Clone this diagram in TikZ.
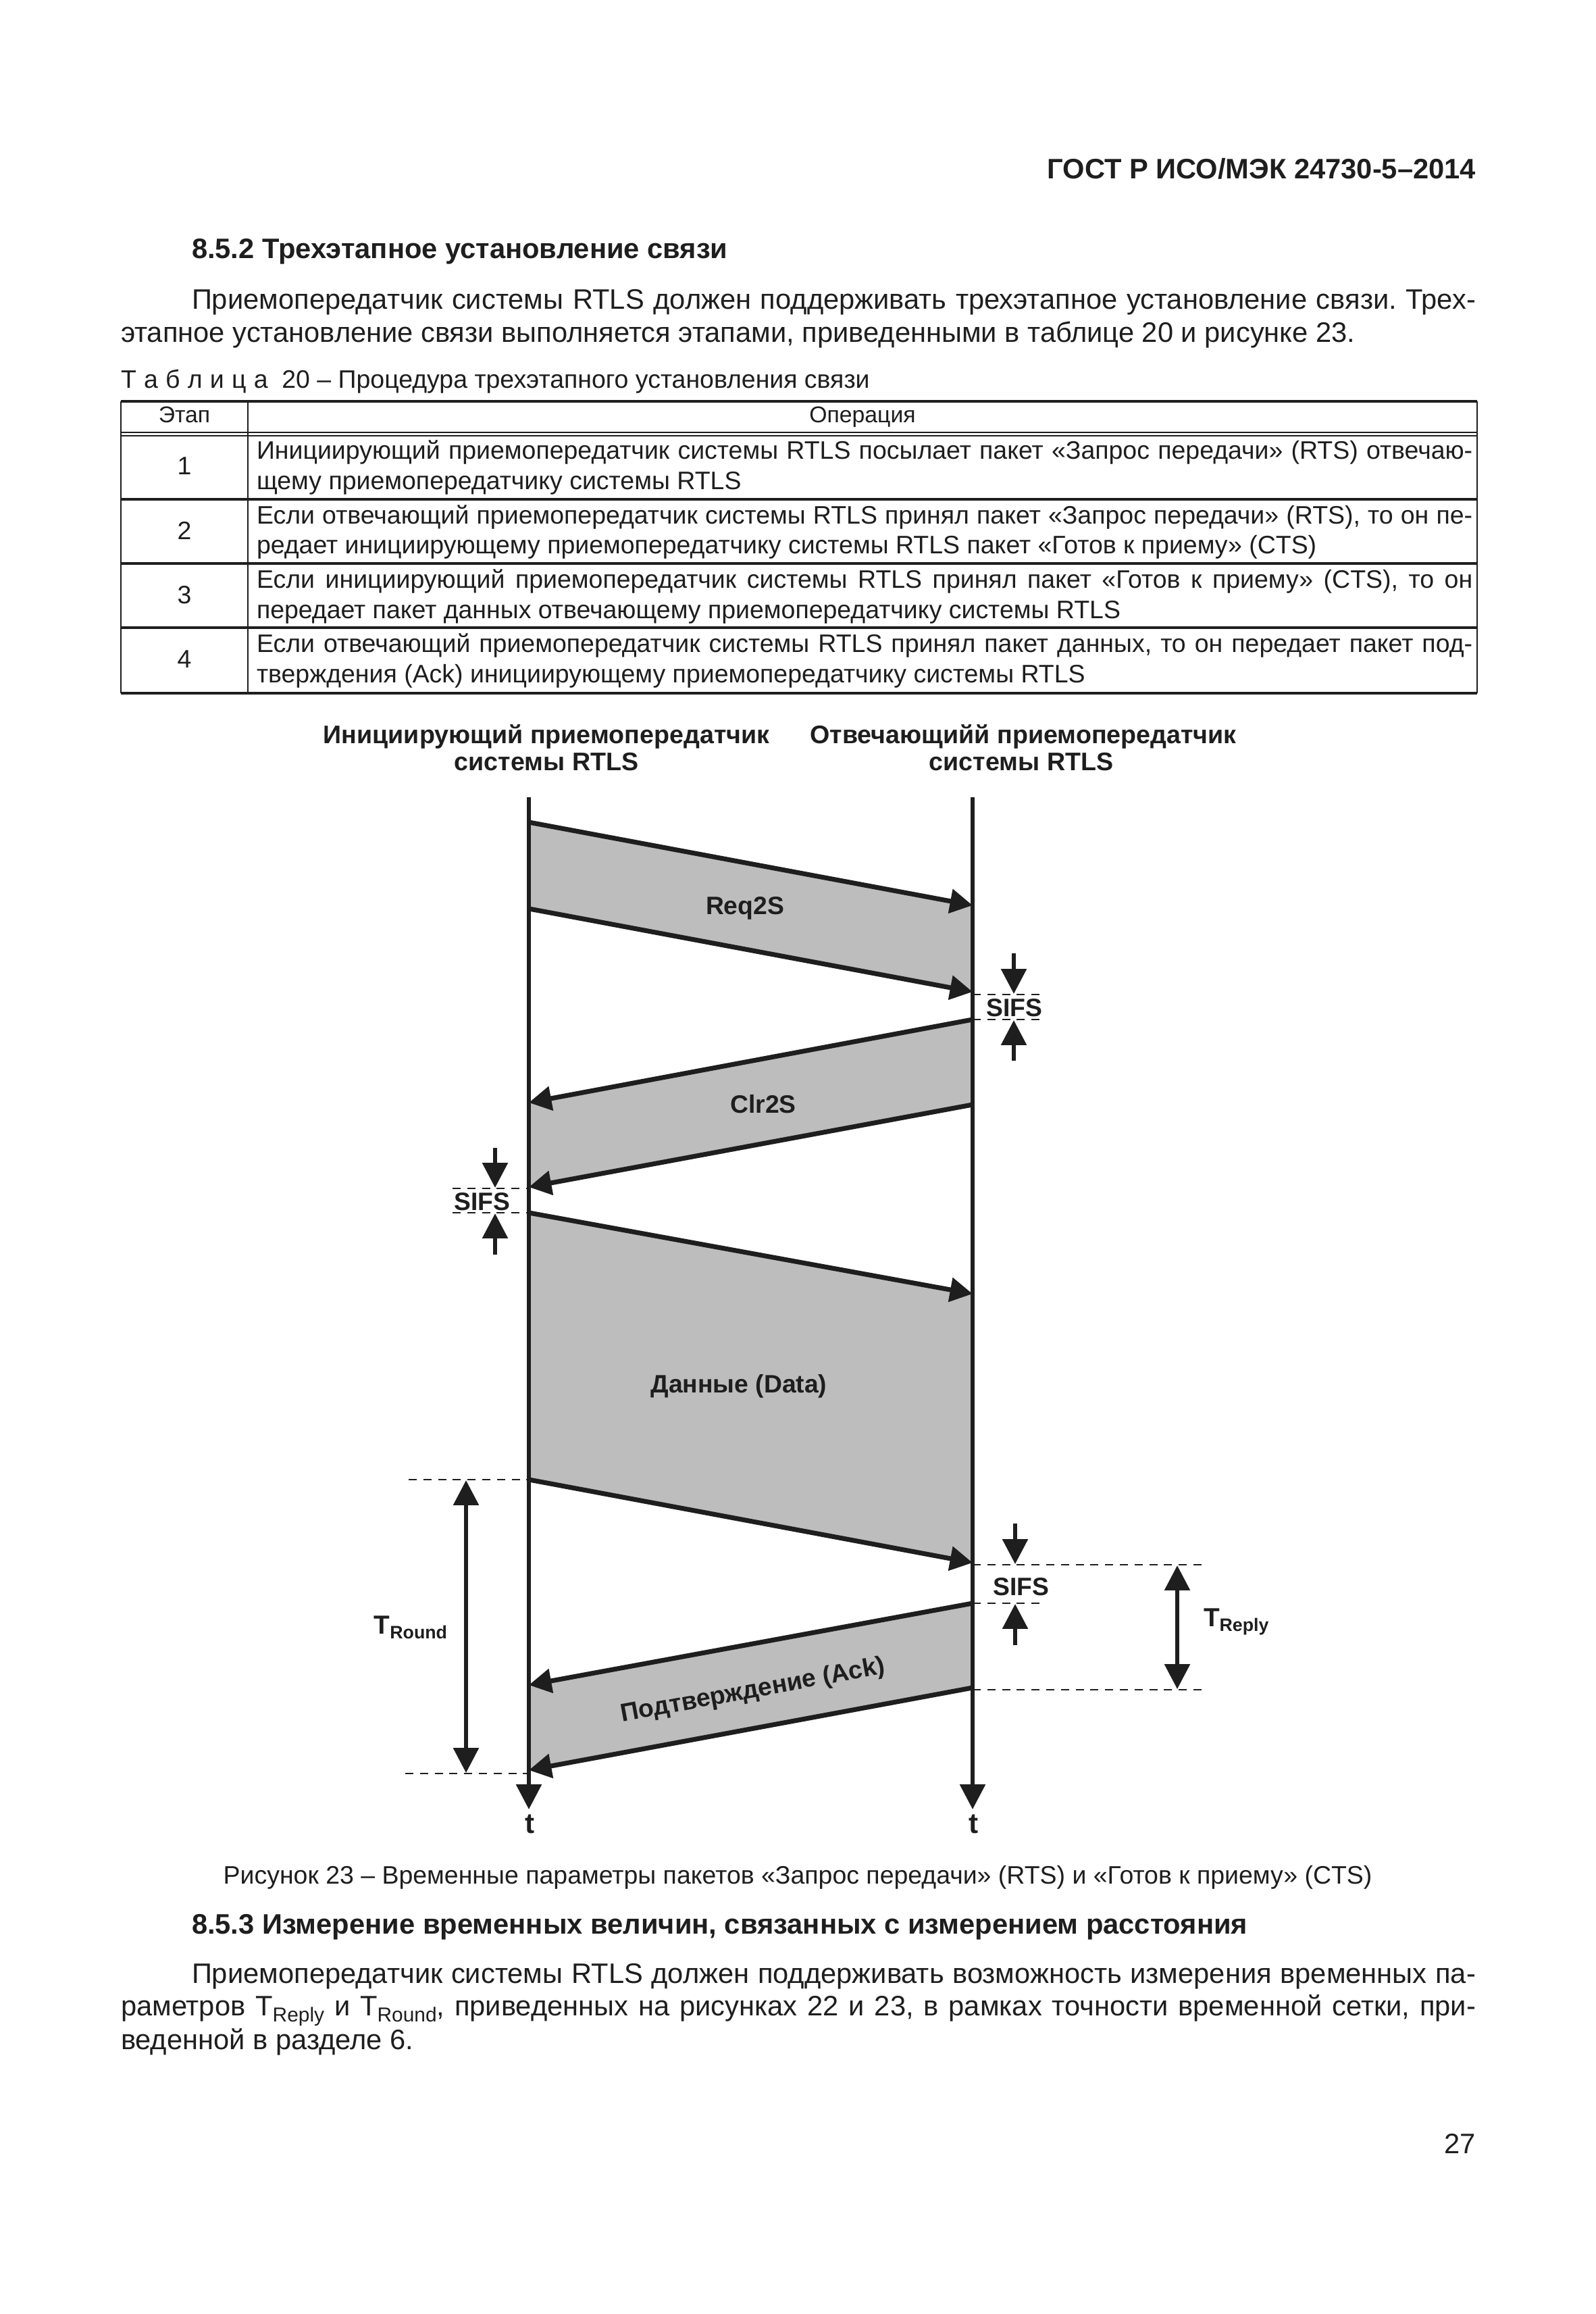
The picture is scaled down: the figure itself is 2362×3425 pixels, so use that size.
\documentclass[tikz,border=0pt]{standalone}
\usepackage{fontspec}
\setmainfont{Liberation Sans}
\usetikzlibrary{arrows.meta}
\newlength\pxu \setlength\pxu{0.01cm}
\newcommand\jl[2]{\makebox[#1\pxu][s]{#2}}
\newcommand\lsp{\hspace{0.3em}}
\newcommand\bsub[1]{\raisebox{-0.42ex}{\fontsize{8.5}{9}\selectfont #1}}
\newcommand\dsub[1]{\raisebox{-2.2pt}{\fontsize{7.6}{8}\selectfont\bfseries #1}}
\definecolor{ink}{HTML}{1E1E1E}
\definecolor{bandgray}{HTML}{BDBDBD}
\frenchspacing
\begin{document}
\begin{tikzpicture}[x=0.01cm,y=-0.01cm,
  every node/.style={inner sep=0pt, outer sep=0pt, text=ink},
  bodytxt/.style={anchor=base west, font=\fontsize{11.85}{14}\selectfont},
  bodybold/.style={anchor=base west, font=\fontsize{11.85}{14}\selectfont\bfseries},
  tabtxt/.style={anchor=base west, font=\fontsize{10.65}{12.5}\selectfont},
  tabmid/.style={anchor=base, font=\fontsize{10.65}{12.5}\selectfont},
  tabhead/.style={anchor=base, font=\fontsize{9.6}{11}\selectfont},
  figlab/.style={font=\fontsize{10.6}{12.5}\selectfont\bfseries},
  headlab/.style={anchor=base, font=\fontsize{10.7}{13}\selectfont\bfseries},
  hrule/.style={draw=ink, line width=1.1pt},
  vrule/.style={draw=ink, line width=0.7pt},
  thinrule/.style={draw=ink, line width=0.55pt},
  msgline/.style={draw=ink, line width=2pt, -{Triangle[length=9.5pt,width=10pt]}},
  lifeline/.style={draw=ink, line width=1.7pt, -{Triangle[length=10.5pt,width=10.5pt]}},
  sifsarrow/.style={draw=ink, line width=1.7pt, -{Triangle[length=10.5pt,width=10.5pt]}},
  spanarrow/.style={draw=ink, line width=1.7pt, {Triangle[length=10.5pt,width=10.5pt]}-{Triangle[length=10.5pt,width=10.5pt]}},
  guide/.style={draw=ink, line width=0.6pt, dash pattern=on 3.4pt off 2.8pt},
]
\useasboundingbox[fill=white] (0,0) rectangle (2362,3425);

% ---------- page text ----------
\node[bodybold, anchor=base east] (hdr) at (2185,265) {ГОСТ Р ИСО/МЭК 24730-5–2014};
\node[bodybold] (h852) at (284,383) {8.5.2 Трехэтапное установление связи};
\node[bodytxt] (p1a) at (284,458) {\jl{1901}{Приемопередатчик системы RTLS должен поддерживать трехэтапное установление связи. Трех-}};
\node[bodytxt] (p1b) at (179,507) {этапное установление связи выполняется этапами, приведенными в таблице 20 и рисунке 23.};

\node[tabtxt] (tcap) at (179,575) {Т\lsp а\lsp б\lsp л\lsp и\lsp ц\lsp а\ \ 20 – Процедура трехэтапного установления связи};

% ---------- table ----------
\draw[hrule] (179,594) -- (2187,594);
\draw[thinrule] (179,640) -- (2187,640);
\draw[thinrule] (179,645) -- (2187,645);
\draw[hrule] (179,739) -- (2187,739);
\draw[hrule] (179,834) -- (2187,834);
\draw[hrule] (179,929) -- (2187,929);
\draw[hrule] (179,1026) -- (2187,1026);
\draw[vrule] (179,594) -- (179,1026);
\draw[vrule] (367,594) -- (367,1026);
\draw[vrule] (2187,594) -- (2187,1026);

\node[tabhead] (th1) at (273,626) {Этап};
\node[tabhead] (th2) at (1277,626) {Операция};

\node[tabmid] (n1) at (273,703) {1};
\node[tabmid] (n2) at (273,798) {2};
\node[tabmid] (n3) at (273,893) {3};
\node[tabmid] (n4) at (273,988) {4};

\node[tabtxt] (r1a) at (380,680) {\jl{1800}{Инициирующий приемопередатчик системы RTLS посылает пакет «Запрос передачи» (RTS) отвечаю-}};
\node[tabtxt] (r1b) at (380,725) {щему приемопередатчику системы RTLS};
\node[tabtxt] (r2a) at (380,775) {\jl{1800}{Если отвечающий приемопередатчик системы RTLS принял пакет «Запрос передачи» (RTS), то он пе-}};
\node[tabtxt] (r2b) at (380,820) {редает инициирующему приемопередатчику системы RTLS пакет «Готов к приему» (CTS)};
\node[tabtxt] (r3a) at (380,870) {\jl{1800}{Если инициирующий приемопередатчик системы RTLS принял пакет «Готов к приему» (CTS), то он}};
\node[tabtxt] (r3b) at (380,915) {передает пакет данных отвечающему приемопередатчику системы RTLS};
\node[tabtxt] (r4a) at (380,965) {\jl{1800}{Если отвечающий приемопередатчик системы RTLS принял пакет данных, то он передает пакет под-}};
\node[tabtxt] (r4b) at (380,1010) {тверждения (Ack) инициирующему приемопередатчику системы RTLS};

% ---------- figure ----------
\node[headlab] (ini1) at (809,1100) {Инициирующий приемопередатчик};
\node[headlab] (ini2) at (809,1140) {системы RTLS};
\node[headlab] (rsp1) at (1515,1100) {Отвечающийй приемопередатчик};
\node[headlab] (rsp2) at (1512,1140) {системы RTLS};

% message endpoints
\coordinate (rqAs) at (783,1217);  \coordinate (rqAe) at (1440,1340);
\coordinate (rqBs) at (783,1345);  \coordinate (rqBe) at (1440,1468);
\coordinate (clAs) at (1440,1509); \coordinate (clAe) at (783,1632);
\coordinate (clBs) at (1440,1635); \coordinate (clBe) at (783,1757);
\coordinate (daAs) at (783,1795);  \coordinate (daAe) at (1440,1915);
\coordinate (daBs) at (783,2190);  \coordinate (daBe) at (1440,2313);
\coordinate (akAs) at (1440,2373); \coordinate (akAe) at (783,2494);
\coordinate (akBs) at (1440,2498); \coordinate (akBe) at (783,2620);

% bands
\fill[bandgray] (rqAs) -- (rqAe) -- (rqBe) -- (rqBs) -- cycle;
\fill[bandgray] (clAs) -- (clAe) -- (clBe) -- (clBs) -- cycle;
\fill[bandgray] (daAs) -- (daAe) -- (daBe) -- (daBs) -- cycle;
\fill[bandgray] (akAs) -- (akAe) -- (akBe) -- (akBs) -- cycle;

% guides
\coordinate (g1a) at (1544,1472); \coordinate (g1b) at (1544,1509);
\draw[guide] (1440,1472) -- (g1a);
\draw[guide] (1440,1509) -- (g1b);
\coordinate (g2a) at (670,1759); \coordinate (g2b) at (670,1795);
\draw[guide] (g2a) -- (783,1759);
\draw[guide] (g2b) -- (783,1795);
\coordinate (g3a) at (1786,2316); \coordinate (g3b) at (1549,2373); \coordinate (g3c) at (1786,2501);
\draw[guide] (1440,2316) -- (g3a);
\draw[guide] (1440,2373) -- (g3b);
\draw[guide] (1440,2501) -- (g3c);
\coordinate (g4a) at (605,2190); \coordinate (g4b) at (600,2625);
\draw[guide] (g4a) -- (783,2190);
\draw[guide] (g4b) -- (783,2625);

% lifelines
\coordinate (lt) at (783,1180);  \coordinate (lb) at (783,2678);
\coordinate (rt) at (1440,1180); \coordinate (rb) at (1440,2678);
\draw[lifeline] (lt) -- (lb);
\draw[lifeline] (rt) -- (rb);
\node[figlab, anchor=base, font=\fontsize{12}{14}\selectfont\bfseries] (tl) at (785,2713) {t};
\node[figlab, anchor=base, font=\fontsize{12}{14}\selectfont\bfseries] (tr) at (1442,2713) {t};

% messages
\draw[msgline] (rqAs) -- (rqAe);
\draw[msgline] (rqBs) -- (rqBe);
\draw[msgline] (clAs) -- (clAe);
\draw[msgline] (clBs) -- (clBe);
\draw[msgline] (daAs) -- (daAe);
\draw[msgline] (daBs) -- (daBe);
\draw[msgline] (akAs) -- (akAe);
\draw[msgline] (akBs) -- (akBe);

\node[figlab] (lreq) at (1103,1344) {Req2S};
\node[figlab] (lclr) at (1130,1634) {Clr2S};
\node[figlab] (ldat) at (1094,2052) {Данные (Data)};
\node[figlab, rotate=10.5] (lack) at (1115,2503) {Подтверждение (Ack)};

% SIFS markers
\node[figlab] (s1) at (1502,1492) {SIFS};
\coordinate (s1d) at (1501,1411); \coordinate (s1u) at (1501,1570);
\draw[sifsarrow] (s1d) -- (1501,1471);
\draw[sifsarrow] (s1u) -- (1501,1510);
\node[figlab] (s2) at (714,1779) {SIFS};
\coordinate (s2d) at (733,1699); \coordinate (s2u) at (733,1857);
\draw[sifsarrow] (s2d) -- (733,1758);
\draw[sifsarrow] (s2u) -- (733,1796);
\node[figlab] (s3) at (1512,2349) {SIFS};
\coordinate (s3d) at (1503,2255); \coordinate (s3u) at (1503,2435);
\draw[sifsarrow] (s3d) -- (1503,2315);
\draw[sifsarrow] (s3u) -- (1503,2374);

% T_Reply and T_Round
\coordinate (trA) at (1743,2317); \coordinate (trB) at (1743,2500);
\draw[spanarrow] (trA) -- (trB);
\node[figlab, anchor=base west, font=\fontsize{11}{13}\selectfont\bfseries] (ltr) at (1782,2407) {T\dsub{Reply}};
\coordinate (toA) at (690,2191); \coordinate (toB) at (690,2624);
\draw[spanarrow] (toA) -- (toB);
\node[figlab, anchor=base east, font=\fontsize{11}{13}\selectfont\bfseries] (lto) at (662,2418) {T\dsub{Round}};

% ---------- caption and following text ----------
\node[tabmid] (fcap) at (1181,2788) {Рисунок 23 – Временные параметры пакетов «Запрос передачи» (RTS) и «Готов к приему» (CTS)};
\node[bodybold] (h853) at (284,2862) {8.5.3 Измерение временных величин, связанных с измерением расстояния};
\node[bodytxt] (p2a) at (284,2935) {\jl{1901}{Приемопередатчик системы RTLS должен поддерживать возможность измерения временных па-}};
\node[bodytxt] (p2b) at (179,2983) {\jl{2006}{раметров T\bsub{Reply} и T\bsub{Round}, приведенных на рисунках 22 и 23, в рамках точности временной сетки, при-}};
\node[bodytxt] (p2c) at (179,3033) {веденной в разделе 6.};
\node[bodytxt, anchor=base east] (pgn) at (2185,3187) {27};
\end{tikzpicture}
\end{document}
